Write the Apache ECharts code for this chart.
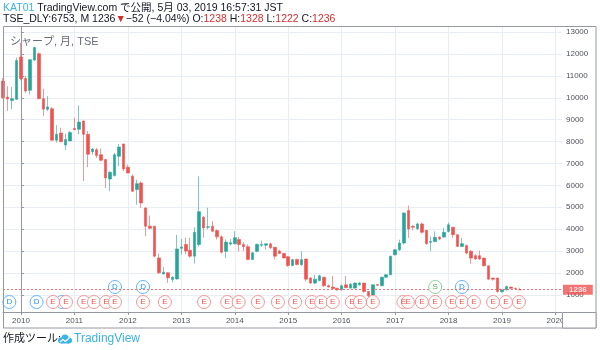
<!DOCTYPE html>
<html>
<head>
<meta charset="utf-8">
<script src="https://cdn.jsdelivr.net/npm/echarts@6/dist/echarts.min.js"></script>
<style>
  html, body { margin: 0; padding: 0; background: #ffffff; }
  #chart { width: 600px; height: 350px; }
</style>
</head>
<body>
<div id="chart"></div>
<script>
// Sharp Corp (TSE:6753), monthly bars, split-adjusted prices (JPY).
// The first bar is September 2009; month index 0 is January 2010.
const firstYear = 2009;
const firstMonth = 9;

const openPx = [
  10760, 10030, 9880, 9930,
  11860, 10880, 10340, 11720, 12010, 9960, 9470, 9500, 8060, 8390, 7840, 8030,
  8600, 8560, 8940, 8330, 7540, 7630, 7400, 7180, 6290, 6450, 7330, 7890,
  6830, 6420, 5810, 6110, 4970, 4140, 4140, 2690, 1960, 2010, 1700, 1730,
  3130, 3300, 3040, 2770, 3300, 4550, 4090, 4140, 3940, 3650, 2990, 3320,
  3330, 3530, 3300, 3200, 2620, 2990, 3270, 3270, 3330, 3180, 3000, 2890,
  2740, 2340, 2620, 2380, 2640, 1770, 1540, 1660, 1810, 1420, 1360, 1300,
  1230, 1460, 1310, 1310, 1460, 1540, 1160, 1000, 1470, 1420, 1810, 1920,
  2830, 3060, 3370, 4850, 4130, 4020, 4240, 3950, 3400, 3440, 3630, 3640,
  3900, 4090, 3750, 3215, 3250, 2990, 2790, 2790, 2680, 2330, 1770, 1770,
  1140, 1230, 1360, 1300, 1238
];
const highPx = [
  10900, 10530, 10490, 11830,
  12510, 11000, 11750, 12330, 12060, 10410, 10080, 9580, 8750, 8630, 8360, 8480,
  9090, 9650, 8950, 8480, 7700, 7710, 7680, 7200, 6640, 7480, 7890, 7900,
  6950, 6500, 6260, 6190, 5000, 4620, 4140, 2890, 2270, 2040, 1850, 3740,
  3560, 3610, 3610, 4090, 6420, 4600, 4980, 4370, 3990, 3710, 3530, 3560,
  3910, 3640, 3410, 3300, 2950, 3350, 3480, 3340, 3380, 3180, 3070, 2920,
  2770, 2650, 2650, 2990, 2640, 1810, 1920, 1920, 1810, 1480, 1870, 1330,
  1480, 1870, 1540, 1560, 1590, 1560, 1170, 1480, 1500, 1830, 1950, 2800,
  3100, 3520, 4760, 5080, 4180, 4300, 4300, 3960, 3670, 3900, 3680, 4060,
  4300, 4100, 3780, 3600, 3300, 3050, 2870, 3020, 2700, 2340, 1780, 1790,
  1250, 1420, 1370, 1330, 1328
];
const lowPx = [
  9950, 9400, 9470, 9900,
  10790, 10230, 10150, 11680, 9930, 9170, 9390, 8050, 7950, 7990, 7630, 8020,
  8530, 8330, 6200, 6830, 7400, 7250, 7100, 5880, 5730, 6400, 6870, 6650,
  6550, 5700, 5120, 4970, 3680, 4000, 2720, 1960, 1920, 1550, 1580, 1700,
  2840, 2850, 2700, 2430, 3200, 3610, 3990, 3860, 3530, 2890, 2690, 3260,
  3300, 2990, 2990, 2590, 2590, 2940, 3190, 3070, 3100, 2620, 2860, 2660,
  2280, 2310, 2350, 2330, 1620, 1510, 1490, 1620, 1360, 1340, 1260, 1200,
  1200, 1310, 1290, 1290, 1420, 1100, 880, 960, 1400, 1400, 1780, 1900,
  2800, 3000, 3300, 3600, 3950, 3960, 3800, 3290, 2990, 3400, 3500, 3620,
  3850, 3600, 3200, 3180, 2850, 2420, 2600, 2600, 2300, 1700, 1650, 1100,
  1110, 1200, 1270, 1260, 1222
];
const closePx = [
  10000, 9940, 9960, 11700,
  10870, 10310, 11740, 12290, 9960, 9480, 9580, 8060, 8330, 7990, 8100, 8410,
  8540, 8890, 8330, 7420, 7660, 7360, 7150, 6340, 6600, 7400, 7750, 6750,
  6570, 5730, 6080, 5200, 4140, 4040, 2770, 2010, 2040, 1780, 1810, 3100,
  3190, 3000, 2770, 3860, 4800, 4060, 4110, 3910, 3650, 2950, 3410, 3380,
  3610, 3300, 3200, 2620, 2920, 3300, 3300, 3330, 3150, 2770, 2890, 2690,
  2340, 2610, 2390, 2610, 1720, 1540, 1720, 1870, 1420, 1360, 1290, 1230,
  1420, 1330, 1490, 1540, 1540, 1160, 960, 1460, 1440, 1810, 1920, 2760,
  3060, 3370, 4740, 4010, 4090, 4240, 3860, 3340, 3440, 3630, 3550, 3860,
  4200, 3750, 3215, 3340, 2910, 2680, 2640, 2640, 2330, 1720, 1720, 1160,
  1230, 1380, 1300, 1288, 1236
];

const yearLabels = ['2010', '2011', '2012', '2013', '2014', '2015', '2016', '2017', '2018', '2019', '2020'];
const priceTicks = [1000, 2000, 3000, 4000, 5000, 6000, 7000, 8000, 9000, 10000, 11000, 12000, 13000];
const lastPrice = 1236;

// Corporate events: earnings (E), dividends (D), split (S)
const earningsDates = [
  '2010-08-07', '2010-11-04', '2011-03-04', '2011-05-13', '2011-08-04', '2011-10-04',
  '2012-04-13', '2012-09-10', '2013-06-04', '2013-11-10', '2014-01-28', '2014-06-07',
  '2014-10-22', '2015-02-16', '2015-06-10', '2015-08-13', '2015-11-01', '2016-03-10',
  '2016-05-04', '2016-08-01', '2017-02-25', '2017-03-28', '2017-07-01', '2017-10-01',
  '2018-01-25', '2018-04-01', '2018-06-22', '2018-11-01', '2019-01-28', '2019-04-25'
];
const dividendDates = ['2009-10-13', '2010-04-16', '2010-10-07', '2011-10-04', '2012-04-13', '2018-04-01'];
const splitDates = ['2017-10-01'];

// ---------------------------------------------------------------------------
const FONT = "'Liberation Sans', 'Noto Sans CJK JP', sans-serif";
const UP = '#26a69a';
const DOWN = '#ef5350';
const AXIS = '#9598a1';
const GRID = '#e9eef4';
const TXT = '#50535e';
const LOGO = '#3bb3e4';

const startIndex = (firstYear - 2010) * 12 + (firstMonth - 1);
const yearTicks = yearLabels.map((_, i) => i * 12);

function dateIndex(s) {
  const [y, m, d] = s.split('-').map(Number);
  const days = new Date(y, m, 0).getDate();
  return (y - 2010) * 12 + (m - 1) + (d - 1) / days;
}
const earningsMonths = new Set(earningsDates.map(s => s.slice(0, 7)));
const rowOf = s => (earningsMonths.has(s.slice(0, 7)) ? 'upper' : 'lower');

const candles = openPx.map((o, k) => [startIndex + k, o, closePx[k], lowPx[k], highPx[k]]);

const xMin = -4.04;
const xMax = 121.47;

function eventSeries(name, dates, letter, stroke, textColor, rowFn, z) {
  return {
    name, type: 'scatter', xAxisIndex: 1, yAxisIndex: 1, z,
    symbol: 'circle', symbolSize: 13, silent: true,
    data: dates.map(s => [dateIndex(s), rowFn(s)]),
    itemStyle: { color: '#ffffff', borderColor: stroke, borderWidth: 1, opacity: 1 },
    label: {
      show: true, position: 'inside', formatter: letter,
      color: textColor, fontSize: 8, fontFamily: FONT
    }
  };
}

const chart = echarts.init(document.getElementById('chart'), null, { renderer: 'canvas' });

chart.setOption({
  animation: false,
  backgroundColor: '#ffffff',
  grid: [
    { left: 3, right: 38, top: 27, bottom: 38 },
    { left: 3, right: 38, top: 279.5, height: 30 }
  ],
  xAxis: [
    {
      type: 'value', min: xMin, max: xMax,
      axisLine: { show: true, onZero: false, lineStyle: { color: AXIS } },
      axisTick: { show: true, length: 3, customValues: yearTicks, lineStyle: { color: AXIS } },
      axisLabel: {
        customValues: yearTicks,
        formatter: v => yearLabels[Math.round(v / 12)],
        fontSize: 8, color: TXT, margin: 5, fontFamily: FONT
      },
      splitLine: { show: true, lineStyle: { color: GRID } }
    },
    { type: 'value', gridIndex: 1, min: xMin, max: xMax, show: false }
  ],
  yAxis: [
    {
      type: 'value', position: 'right', min: 220, max: 13230,
      axisLine: { show: true, lineStyle: { color: AXIS } },
      axisTick: { show: true, length: 3, customValues: priceTicks, lineStyle: { color: AXIS } },
      axisLabel: {
        customValues: priceTicks, formatter: v => String(v),
        fontSize: 8, color: TXT, margin: 4, fontFamily: FONT
      },
      splitLine: { show: true, lineStyle: { color: GRID } }
    },
    { type: 'category', gridIndex: 1, data: ['lower', 'upper'], show: false }
  ],
  series: [
    {
      name: 'TSE_DLY:6753', type: 'candlestick',
      data: candles, barWidth: 3,
      itemStyle: {
        color: UP, color0: DOWN,
        borderColor: 'rgba(38,166,154,0.6)', borderColor0: 'rgba(239,83,80,0.6)',
        borderWidth: 1
      },
      markLine: {
        silent: true, symbol: 'none',
        data: [{ yAxis: lastPrice }],
        lineStyle: { color: DOWN, type: [2, 2], width: 1, opacity: 0.8 },
        label: {
          show: true, position: 'end', distance: 1,
          formatter: String(lastPrice),
          backgroundColor: DOWN, color: '#ffffff',
          fontSize: 8, fontWeight: 'bold', fontFamily: FONT,
          padding: [1, 6, 1, 6]
        }
      }
    },
    eventSeries('dividends', dividendDates, 'D', '#64b5f6', '#2196f3', rowOf, 3),
    eventSeries('earnings', earningsDates, 'E', '#f29896', '#ef5350', () => 'lower', 4),
    eventSeries('splits', splitDates, 'S', '#8fd19e', '#4caf50', () => 'upper', 5)
  ],
  graphic: [
    // outer frame and the corner box under the price scale
    { type: 'rect', z: 100, silent: true,
      shape: { x: 3.5, y: 26.5, width: 592.5, height: 301.5 },
      style: { fill: 'none', stroke: AXIS, lineWidth: 1 } },
    { type: 'rect', z: 101, silent: true,
      shape: { x: 562.5, y: 312.5, width: 33.5, height: 15.5 },
      style: { fill: '#ffffff', stroke: AXIS, lineWidth: 1 } },
    // header
    { type: 'text', x: 3, y: 2.5, z: 100, silent: true,
      style: {
        text: '{b|KAT01} {a|TradingView.com で公開, 5月 03, 2019 16:57:31 JST}',
        font: '10.5px ' + FONT,
        rich: {
          a: { fontSize: 10.5, fontFamily: FONT, fill: '#131722' },
          b: { fontSize: 10.5, fontFamily: FONT, fill: LOGO }
        }
      } },
    { type: 'text', x: 3, y: 13.5, z: 100, silent: true,
      style: {
        text: '{a|TSE_DLY:6753, M 1236}{r|▼}{a|−52 (−4.04%) O:}{r|1238}{a| H:}{r|1328}{a| L:}{r|1222}{a| C:}{r|1236}',
        font: '10.5px ' + FONT,
        rich: {
          a: { fontSize: 10.5, fontFamily: FONT, fill: '#131722' },
          r: { fontSize: 10.5, fontFamily: FONT, fill: '#d32f2f' }
        }
      } },
    { type: 'text', x: 10, y: 36, z: 100, silent: true,
      style: { text: 'シャープ, 月, TSE', font: '11px ' + FONT, fill: '#6a6d78' } },
    // footer
    { type: 'text', x: 3, y: 333, z: 100, silent: true,
      style: { text: '作成ツール:', font: '11px ' + FONT, fill: '#131722' } },
    // logo: a small cloud with a white trend line
    { type: 'circle', z: 100, silent: true, shape: { cx: 61, cy: 340.5, r: 3 }, style: { fill: LOGO } },
    { type: 'circle', z: 100, silent: true, shape: { cx: 65, cy: 338, r: 3.6 }, style: { fill: LOGO } },
    { type: 'circle', z: 100, silent: true, shape: { cx: 69, cy: 340.5, r: 3 }, style: { fill: LOGO } },
    { type: 'rect', z: 100, silent: true, shape: { x: 61, y: 339, width: 8, height: 4.5 }, style: { fill: LOGO } },
    { type: 'polyline', z: 101, silent: true,
      shape: { points: [[60, 342], [63, 339.5], [65.5, 341.5], [69.5, 337.5]] },
      style: { stroke: '#ffffff', lineWidth: 1.2, fill: 'none' } },
    { type: 'text', x: 74, y: 333, z: 100, silent: true,
      style: { text: 'TradingView', font: '12px ' + FONT, fill: LOGO } }
  ]
});
</script>
</body>
</html>
